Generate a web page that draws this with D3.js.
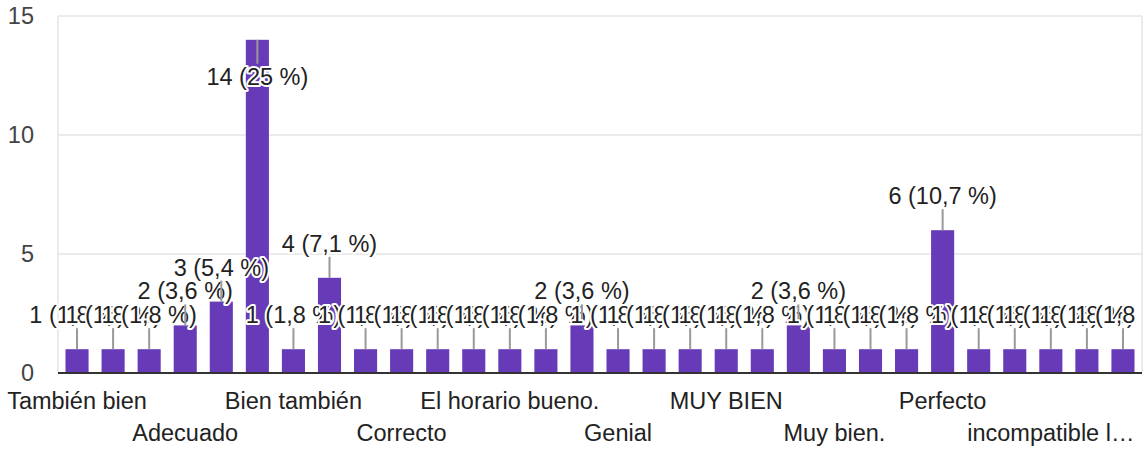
<!DOCTYPE html>
<html>
<head>
<meta charset="utf-8">
<script src="https://cdn.jsdelivr.net/npm/d3@7/dist/d3.min.js"></script>
<style>
  html, body { margin: 0; padding: 0; background: #fff; }
  svg { display: block; font-family: Arial, "Liberation Sans", sans-serif; }
</style>
</head>
<body>
<svg id="chart" width="1148" height="450"></svg>
<script>
// Category names (only every third one is visible in the chart)
const categories = [
  "También bien", "Aceptable", "Adecuada", "Adecuado", "Bien.", "Bien",
  "Bien también", "Buena", "Buen horario", "Correcto", "Cómodo", "El horario bien",
  "El horario bueno.", "Está bien", "Excelente", "Genial", "Me parece bien", "Muy bien",
  "MUY BIEN", "Muy adecuado", "Muy bueno", "Muy bien.", "Normal", "Óptimo",
  "Perfecto", "Perfecto.", "Sin problemas", "incompatible l…", "Regular", "Todo bien"
];
const counts = [
  1, 1, 1, 2, 3, 14,
  1, 4, 1, 1, 1, 1,
  1, 1, 2, 1, 1, 1,
  1, 1, 2, 1, 1, 1,
  6, 1, 1, 1, 1, 1
];
const yTicks = [0, 5, 10, 15];

(function () {
const total = d3.sum(counts);
const fmtPct = v => {
  const p = (v / total * 100).toFixed(1).replace(/\.0$/, "").replace(".", ",");
  return v + " (" + p + " %)";
};

const svg = d3.select("#chart");
const mLeft = 58, mRight = 1142, mTop = 16, mBottom = 373;
const FS = 23.5;

svg.append("defs").append("clipPath").attr("id", "annClip")
  .append("rect").attr("x", 0).attr("y", 0).attr("width", 1136).attr("height", 450);

const x = d3.scaleBand().domain(d3.range(categories.length))
  .range([mLeft + 1, mRight - 1]).paddingInner(0.36).paddingOuter(0.18);
const y = d3.scaleLinear().domain([0, 15]).range([mBottom, mTop]);

// gridlines
svg.append("g").selectAll("line").data(yTicks.filter(t => t > 0)).join("line")
  .attr("x1", mLeft).attr("x2", mRight)
  .attr("y1", d => y(d)).attr("y2", d => y(d))
  .attr("stroke", "#ebebeb").attr("stroke-width", 2);
// side frame lines
[mLeft, mRight].forEach(xx => {
  svg.append("line").attr("x1", xx).attr("x2", xx).attr("y1", mTop).attr("y2", mBottom)
    .attr("stroke", "#ebebeb").attr("stroke-width", 2);
});

// y tick labels
svg.append("g").selectAll("text").data(yTicks).join("text")
  .attr("x", 34).attr("y", d => y(d)).attr("dy", "0.36em")
  .attr("text-anchor", "end").attr("font-size", FS).attr("fill", "#444")
  .text(d => d);

// bars
svg.append("g").selectAll("rect").data(counts).join("rect")
  .attr("x", (d, i) => x(i)).attr("width", x.bandwidth())
  .attr("y", d => y(d)).attr("height", d => y(0) - y(d))
  .attr("fill", "#673ab7");

// baseline
svg.append("line").attr("x1", mLeft).attr("x2", mRight)
  .attr("y1", y(0)).attr("y2", y(0))
  .attr("stroke", "#333").attr("stroke-width", 2);

// x axis labels: every third category, alternating rows
const xAxisG = svg.append("g");
categories.forEach((c, i) => {
  if (i % 3 !== 0) return;
  const row = (i / 3) % 2;
  xAxisG.append("text")
    .attr("x", x(i) + x.bandwidth() / 2)
    .attr("y", row === 0 ? 409 : 441)
    .attr("text-anchor", "middle").attr("font-size", FS).attr("fill", "#222")
    .text(c);
});

// annotations: stem + label with white halo, drawn bar by bar
const annG = svg.append("g").attr("clip-path", "url(#annClip)");
const stem = 21;
counts.forEach((v, i) => {
  const cx = x(i) + x.bandwidth() / 2;
  const ty = y(v);
  const inside = ty - stem - 6 - FS * 0.72 < mTop;
  const g = annG.append("g");
  if (inside) {
    g.append("line").attr("x1", cx).attr("x2", cx).attr("y1", ty).attr("y2", ty + stem + 3)
      .attr("stroke", "#999").attr("stroke-width", 2);
    g.append("text").attr("x", cx).attr("y", ty + stem + 3 + 4 + FS * 0.72)
      .attr("text-anchor", "middle").attr("font-size", FS).attr("fill", "#222")
      .attr("stroke", "#fff").attr("stroke-width", 4).attr("paint-order", "stroke")
      .attr("stroke-linejoin", "round")
      .text(fmtPct(v));
  } else {
    g.append("line").attr("x1", cx).attr("x2", cx).attr("y1", ty).attr("y2", ty - stem)
      .attr("stroke", "#999").attr("stroke-width", 2);
    g.append("text").attr("x", cx).attr("y", ty - stem - 5)
      .attr("text-anchor", "middle").attr("font-size", FS).attr("fill", "#222")
      .attr("stroke", "#fff").attr("stroke-width", 4).attr("paint-order", "stroke")
      .attr("stroke-linejoin", "round")
      .text(fmtPct(v));
  }
});
})();
</script>
</body>
</html>
